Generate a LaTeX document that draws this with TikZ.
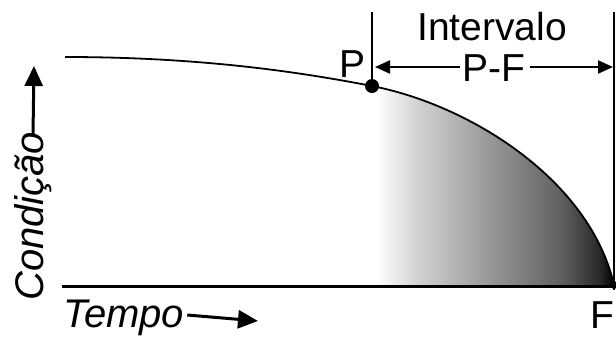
\documentclass[tikz,border=0pt]{standalone}
\usepackage{fontspec}
\setmainfont{Liberation Sans}
\usetikzlibrary{arrows.meta}
\pgfdeclarehorizontalshading{pfshade}{100bp}{color(0bp)=(white); color(26bp)=(white); color(34bp)=(black!17); color(47bp)=(black!37); color(64bp)=(black!62); color(72bp)=(black!84); color(75bp)=(black); color(100bp)=(black)}
\begin{document}
\begin{tikzpicture}[x=1pt,y=-1pt,
  lbl/.style={font=\fontsize{39}{42}\selectfont, inner sep=0pt},
  ilbl/.style={font=\fontsize{40}{42}\selectfont\itshape, inner sep=0pt},
  dim/.style={line width=1.4pt},
  dimarrow/.style={line width=2pt, -{Triangle[length=15pt,width=13pt]}},
  axarrow/.style={line width=3pt, -{Triangle[length=20pt,width=18pt]}}]
\useasboundingbox (0,0) rectangle (616,338);
\coordinate (S) at (65,57);
\coordinate (P) at (372,86);
\coordinate (F) at (614,285);
\coordinate (A0) at (62,286);
\coordinate (A1) at (616,286);
% shaded region
\fill[shading=pfshade] (P) .. controls (470,105) and (590,180) .. (F) -- (F |- A0) -- (P |- A0) -- cycle;
% axis
\draw[line width=3pt] (A0) -- (A1);
% curve
\draw[line width=1.8pt] (S) .. controls (200,57) and (300,72) .. (P)
  .. controls (470,105) and (590,180) .. (F);
% verticals
\coordinate (PT) at (372,12);
\coordinate (FT) at (614,12);
\draw[dim] (PT) -- (P);
\draw[dim] (FT) -- (614,290);
% points
\fill (P) circle (7pt);
\fill (F) circle (4pt);
% labels
\node[lbl] (iv) at (492,27) {Intervalo};
\node[lbl] (pf) at (494,68) {P-F};
\node[lbl] (lp) at (353,64) {P};
\node[lbl] (lf) at (602,315) {F};
\coordinate (L1) at (460,67);
\coordinate (L2) at (375,67);
\coordinate (R1) at (530,67);
\coordinate (R2) at (613,67);
\draw[dimarrow] (L1) -- (L2);
\draw[dimarrow] (R1) -- (R2);
% axis labels
\node[ilbl, anchor=west] (tempo) at (63,318) {Tempo};
\coordinate (TA) at (258,321);
\draw[axarrow] ([xshift=3pt,yshift=3pt]tempo.east) -- (TA);
\node[ilbl, rotate=90, anchor=west] (cond) at (33,301) {Condição};
\coordinate (CA) at (34,66);
\draw[axarrow] ([yshift=-3pt]cond.east) -- (CA);
\end{tikzpicture}
\end{document}
